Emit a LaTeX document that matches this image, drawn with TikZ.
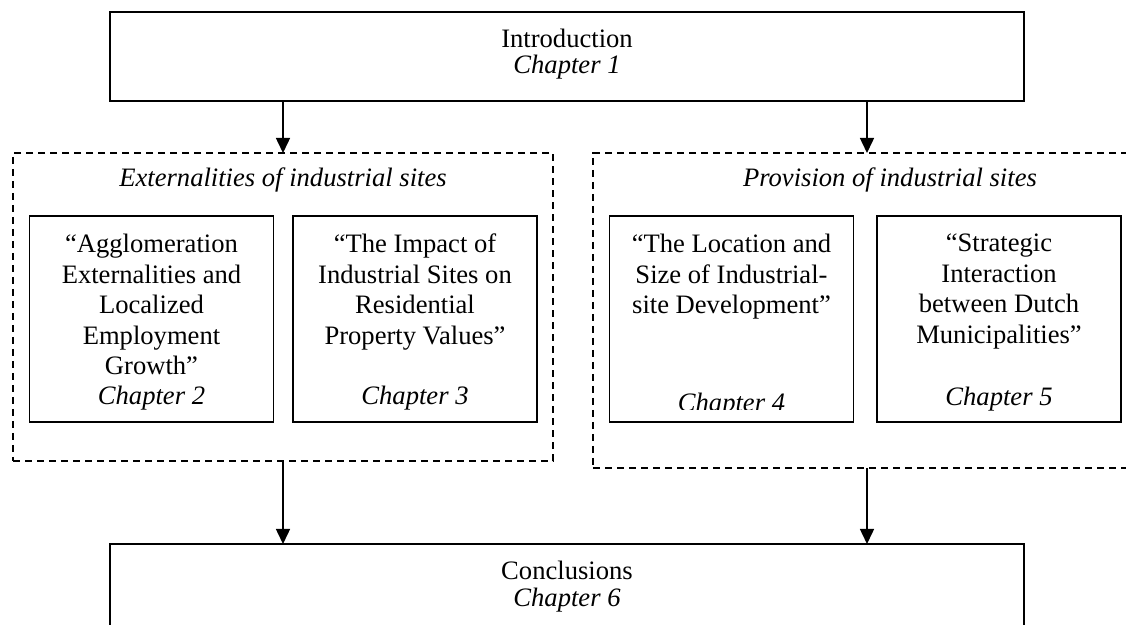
\documentclass[tikz,border=0pt]{standalone}
\usepackage{fontspec}
\setmainfont{Liberation Serif}
\usetikzlibrary{arrows.meta}
\begin{document}
\begin{tikzpicture}[x=0.5pt,y=-0.5pt,
  txt/.style={font=\fontsize{13.3}{15.3}\selectfont, inner sep=0pt, outer sep=0pt, align=center},
  solidbox/.style={draw, line width=1pt, inner sep=0pt, outer sep=0pt},
  innerbox/.style={draw, line width=0.85pt, inner sep=0pt, outer sep=0pt, minimum width=122pt, minimum height=103pt},
  groupbox/.style={draw, line width=0.65pt, dash pattern=on 3.6pt off 2.4pt, inner sep=0pt, outer sep=0pt},
  arr/.style={line width=0.75pt, -{Triangle[width=7pt,length=7.5pt]}}]
\useasboundingbox (0,0) rectangle (1126,625);
\clip (0,0) rectangle (1126,625);
% boxes
\node[solidbox, minimum width=457pt, minimum height=44.5pt] (intro) at (567,56.5) {};
\node[groupbox, minimum width=270pt, minimum height=154pt] (ext) at (283,307) {};
\node[groupbox, minimum width=274pt, minimum height=157.5pt] (prov) at (867,310.5) {};
\node[innerbox] (b1) at (151.5,319) {};
\node[innerbox] (b2) at (415,319) {};
\node[innerbox] (b3) at (731.5,319) {};
\node[innerbox] (b4) at (999,319) {};
\node[solidbox, minimum width=457pt, minimum height=78pt] (concl) at (567,622) {};
% texts
\node[txt, anchor=base] (introT) at (567,48) {Introduction};
\node[txt, anchor=base] (introC) at (567,74) {\itshape Chapter 1};
\node[txt, anchor=base] (extT) at (283,187) {\itshape Externalities of industrial sites};
\node[txt, anchor=base] (provT) at (890,187) {\itshape Provision of industrial sites};
\node[txt, anchor=north] (t1) at (151.5,234) {“Agglomeration\\Externalities and\\Localized\\Employment\\Growth”};
\node[txt, anchor=base] (c1) at (151.5,405) {\itshape Chapter 2};
\node[txt, anchor=north] (t2) at (415,234) {“The Impact of\\Industrial Sites on\\Residential\\Property Values”};
\node[txt, anchor=base] (c2) at (415,405) {\itshape Chapter 3};
\node[txt, anchor=north] (t3) at (731.5,234) {“The Location and\\Size of Industrial-\\site Development”};
\begin{scope}
\clip (609,216) rectangle (854,410);
\node[txt, anchor=base] (c3) at (731.5,412) {\itshape Chapter 4};
\end{scope}
\node[txt, anchor=north] (t4) at (999,234) {“Strategic\\Interaction\\between Dutch\\Municipalities”};
\node[txt, anchor=base] (c4) at (999,406) {\itshape Chapter 5};
\node[txt, anchor=base] (conclT) at (567,580) {Conclusions};
\node[txt, anchor=base] (conclC) at (567,607) {\itshape Chapter 6};
% connectors
\draw[arr] (intro.south -| ext.north) -- (ext.north);
\draw[arr] (intro.south -| prov.north) -- (prov.north);
\draw[arr] (ext.south) -- (ext.south |- concl.north);
\draw[arr] (prov.south) -- (prov.south |- concl.north);
\end{tikzpicture}
\end{document}
